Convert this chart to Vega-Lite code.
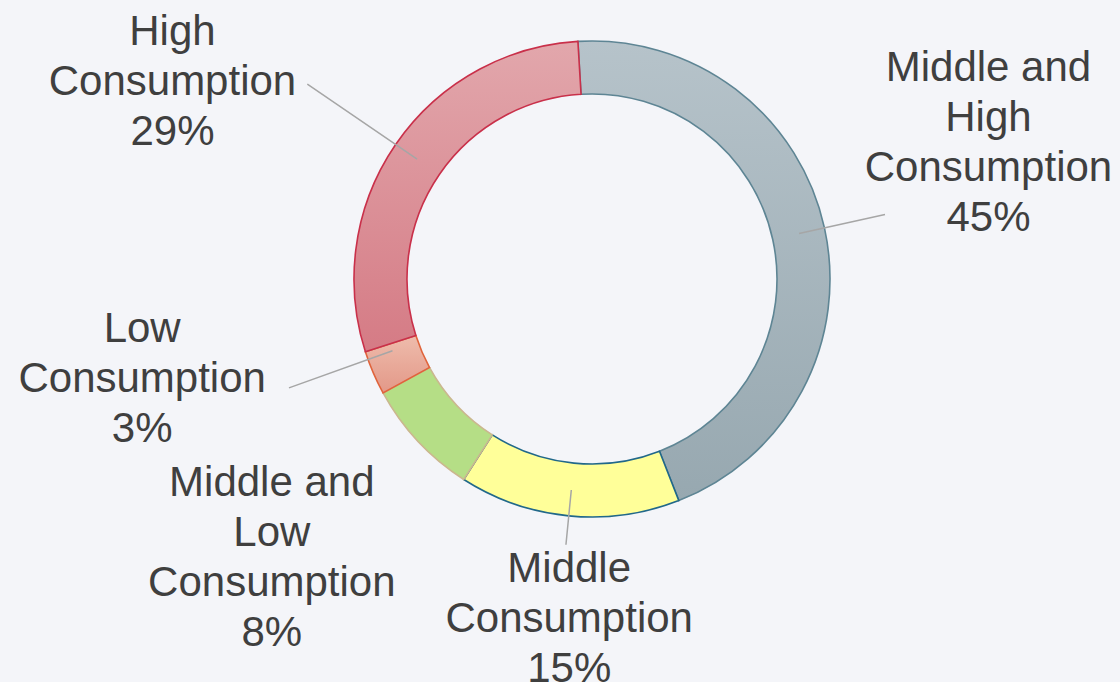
{
  "$schema": "https://vega.github.io/schema/vega-lite/v6.json",
  "width": 1056,
  "height": 558,
  "autosize": "none",
  "padding": {"left": 64, "top": 0, "right": 0, "bottom": 124},
  "background": "#f4f5f9",
  "config": {"view": {"stroke": null}},
  "data": {
    "values": [
      {"k": "MH", "cat": "Middle and High Consumption", "pct": 45, "ord": 1, "label": "Middle and\nHigh\nConsumption\n45%"},
      {"k": "M", "cat": "Middle Consumption", "pct": 15, "ord": 2, "label": "Middle\nConsumption\n15%"},
      {"k": "ML", "cat": "Middle and Low Consumption", "pct": 8, "ord": 3, "label": "Middle and\nLow\nConsumption\n8%"},
      {"k": "L", "cat": "Low Consumption", "pct": 3, "ord": 4, "label": "Low\nConsumption\n3%"},
      {"k": "H", "cat": "High Consumption", "pct": 29, "ord": 5, "label": "High\nConsumption\n29%"}
    ]
  },
  "encoding": {
    "theta": {"field": "pct", "type": "quantitative", "stack": true, "scale": {"domain": [0, 100], "range": [-0.0593, 6.2239]}},
    "order": {"field": "ord", "type": "quantitative"}
  },
  "layer": [
    {
      "mark": {"type": "arc", "radius": 238, "radius2": 185, "strokeWidth": 1.6},
      "encoding": {
        "fill": {
          "condition": [
            {"test": "datum.k === 'MH'", "value": {"gradient": "linear", "x1": 0, "y1": 0, "x2": 0, "y2": 1, "stops": [{"offset": 0, "color": "#b6c3ca"}, {"offset": 1, "color": "#97a8b0"}]}},
            {"test": "datum.k === 'H'", "value": {"gradient": "linear", "x1": 0, "y1": 0, "x2": 0, "y2": 1, "stops": [{"offset": 0, "color": "#e2a7ac"}, {"offset": 1, "color": "#d57b85"}]}},
            {"test": "datum.k === 'L'", "value": {"gradient": "linear", "x1": 0, "y1": 0, "x2": 0, "y2": 1, "stops": [{"offset": 0, "color": "#eebcac"}, {"offset": 1, "color": "#e39888"}]}},
            {"test": "datum.k === 'ML'", "value": "#b5de86"}
          ],
          "value": "#ffff99"
        },
        "stroke": {
          "field": "k",
          "type": "nominal",
          "legend": null,
          "scale": {"domain": ["MH", "M", "ML", "L", "H"], "range": ["#5e8594", "#21688a", "#cbb78f", "#e0643c", "#c9304a"]}
        }
      }
    },
    {
      "mark": {"type": "arc", "radius": 300, "radius2": 212, "padAngle": 3.1, "filled": false, "stroke": "#a6a6a6", "strokeWidth": 1.5},
      "encoding": {"strokeOpacity": {"condition": {"test": "datum.k === 'MH'", "value": 1}, "value": 0}}
    },
    {
      "mark": {"type": "arc", "radius": 267, "radius2": 212, "padAngle": 3.1, "filled": false, "stroke": "#a6a6a6", "strokeWidth": 1.5},
      "encoding": {"strokeOpacity": {"condition": {"test": "datum.k === 'M'", "value": 1}, "value": 0}}
    },
    {
      "mark": {"type": "arc", "radius": 322, "radius2": 212, "padAngle": 3.1, "thetaOffset": 0.06, "theta2Offset": 0.06, "filled": false, "stroke": "#a6a6a6", "strokeWidth": 1.5},
      "encoding": {"strokeOpacity": {"condition": {"test": "datum.k === 'L'", "value": 1}, "value": 0}}
    },
    {
      "mark": {"type": "arc", "radius": 345, "radius2": 212, "padAngle": 3.1, "filled": false, "stroke": "#a6a6a6", "strokeWidth": 1.5},
      "encoding": {"strokeOpacity": {"condition": {"test": "datum.k === 'H'", "value": 1}, "value": 0}}
    },
    {
      "mark": {"type": "text", "radius": 410, "dx": -4, "dy": -123, "fontSize": 42, "lineHeight": 50, "lineBreak": "\n", "align": "center", "baseline": "middle", "fill": "#3f3f3f", "font": "Liberation Sans"},
      "encoding": {"text": {"field": "label"}, "opacity": {"condition": {"test": "datum.k === 'MH'", "value": 1}, "value": 0}}
    },
    {
      "mark": {"type": "text", "radius": 336, "dx": 10, "dy": -44, "fontSize": 42, "lineHeight": 50, "lineBreak": "\n", "align": "center", "baseline": "middle", "fill": "#3f3f3f", "font": "Liberation Sans"},
      "encoding": {"text": {"field": "label"}, "opacity": {"condition": {"test": "datum.k === 'M'", "value": 1}, "value": 0}}
    },
    {
      "mark": {"type": "text", "radius": 420, "dx": -13, "dy": -82, "fontSize": 42, "lineHeight": 50, "lineBreak": "\n", "align": "center", "baseline": "middle", "fill": "#3f3f3f", "font": "Liberation Sans"},
      "encoding": {"text": {"field": "label"}, "opacity": {"condition": {"test": "datum.k === 'ML'", "value": 1}, "value": 0}}
    },
    {
      "mark": {"type": "text", "radius": 460, "dx": -27, "dy": -131, "fontSize": 42, "lineHeight": 50, "lineBreak": "\n", "align": "center", "baseline": "middle", "fill": "#3f3f3f", "font": "Liberation Sans"},
      "encoding": {"text": {"field": "label"}, "opacity": {"condition": {"test": "datum.k === 'L'", "value": 1}, "value": 0}}
    },
    {
      "mark": {"type": "text", "radius": 460, "dx": -40, "dy": 13, "fontSize": 42, "lineHeight": 50, "lineBreak": "\n", "align": "center", "baseline": "middle", "fill": "#3f3f3f", "font": "Liberation Sans"},
      "encoding": {"text": {"field": "label"}, "opacity": {"condition": {"test": "datum.k === 'H'", "value": 1}, "value": 0}}
    }
  ]
}
